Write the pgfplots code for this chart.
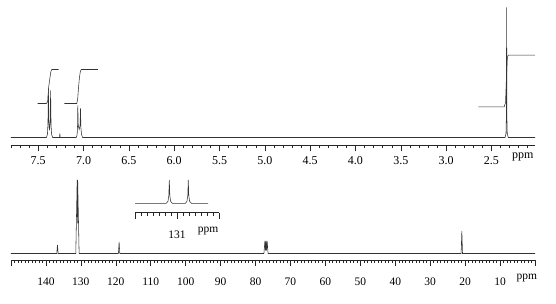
\documentclass[border=0pt]{standalone}
\usepackage{fontspec}
\setmainfont{Liberation Serif}
\usepackage{pgfplots}
\pgfplotsset{compat=1.18}
\pgfplotsset{
  nmr/.style={scale only axis, clip=false, axis x line=bottom, axis y line=none,
    x dir=reverse, x axis line style={-, line width=0.5pt, black!85},
    tick align=outside, major tick length=6pt, minor tick length=3pt,
    tick style={black!85, line width=0.5pt},
    /pgf/number format/assume math mode=true, typeset ticklabels with strut,
    no markers,
    every axis plot post/.append style={black!80, line width=0.55pt, mark=none}},
}
\begin{document}
\begin{tikzpicture}
\useasboundingbox (0,0) rectangle (556pt,304pt);
% ---------- 1H spectrum ----------
\begin{axis}[nmr, at={(11pt,158.5pt)}, anchor=south west,
  width=524pt, height=145.5pt, xmin=2.02, xmax=7.8, ymin=-8, ymax=137.5,
  xtick={2.5,3.0,...,7.5}, minor xtick={2.1,2.2,...,7.8},
  xticklabel style={font=\fontsize{12}{14}\selectfont, yshift=0pt, /pgf/number format/.cd, fixed, fixed zerofill, precision=1},
  extra x ticks={2.154}, extra x tick labels={ppm}, extra x tick style={major tick length=0pt}]
\addplot coordinates {(7.80,0) (7.41,0) (7.398,3) (7.392,15) (7.388,49) (7.380,10) (7.375,8) (7.367,15) (7.363,47) (7.358,12) (7.352,3) (7.34,0)
 (7.265,0) (7.261,4) (7.257,0) (7.08,0) (7.07,3) (7.066,12) (7.063,32) (7.058,12) (7.048,8) (7.038,12) (7.033,29) (7.029,10) (7.022,3) (7.01,0)
 (2.35,0) (2.340,4) (2.336,20) (2.333,130) (2.330,20) (2.326,4) (2.315,0) (2.02,0)};
% integrals
\addplot coordinates {(7.505,34) (7.41,34) (7.395,36) (7.385,50) (7.37,60) (7.36,66) (7.35,68) (7.275,68)};
\addplot coordinates {(7.21,34) (7.075,34) (7.065,38) (7.055,50) (7.045,60) (7.035,66) (7.025,68) (6.843,68)};
\addplot coordinates {(2.645,30.6) (2.36,30.6) (2.345,35) (2.335,60) (2.325,80) (2.315,82.3) (2.02,82.3)};
\end{axis}
% ---------- 13C spectrum ----------
\begin{axis}[nmr, at={(11pt,44pt)}, anchor=south west,
  width=524pt, height=86.5pt, xmin=0, xmax=150, ymin=-6.5, ymax=80,
  xtick={0,10,...,150}, xticklabels={{},10,20,30,40,50,60,70,80,90,100,110,120,130,140,{}},
  minor xtick={1,2,...,149},
  xticklabel style={font=\fontsize{11.5}{13}\selectfont, yshift=-7pt},
  extra x ticks={2.3}, extra x tick labels={ppm}, extra x tick style={major tick length=0pt}]
\addplot coordinates {(150,0) (136.9,0) (136.7,8.7) (136.5,0) (131.45,0) (131.06,73.7) (130.98,30) (130.91,73.7) (130.5,0)
 (119.25,0) (119.05,11.7) (118.85,0) (77.6,0) (77.32,12.5) (77.16,3) (77.0,12.7) (76.84,3) (76.68,12.5) (76.4,0)
 (21.15,0) (20.94,22.7) (20.75,0) (0,0)};
\end{axis}
% ---------- inset ----------
\begin{axis}[nmr, at={(135pt,91.3pt)}, anchor=south west,
  width=84pt, height=39.4pt, xmin=130.65, xmax=131.35, ymin=-9.4, ymax=30,
  xtick={130.65,131,131.35}, xticklabels={{},131,{}},
  minor xtick={130.70,130.75,...,131.31},
  xticklabel style={font=\fontsize{11.5}{13}\selectfont, yshift=-7pt},
  extra x ticks={130.74}, extra x tick labels={ppm}, extra x tick style={major tick length=0pt}]
\addplot coordinates {(131.35,0) (131.09,0) (131.075,2) (131.068,8) (131.064,23.3) (131.060,8) (131.053,2) (131.04,0)
 (130.93,0) (130.917,2) (130.910,8) (130.906,23.3) (130.902,8) (130.895,2) (130.88,0) (130.74,0)};
\end{axis}
\end{tikzpicture}
\end{document}
